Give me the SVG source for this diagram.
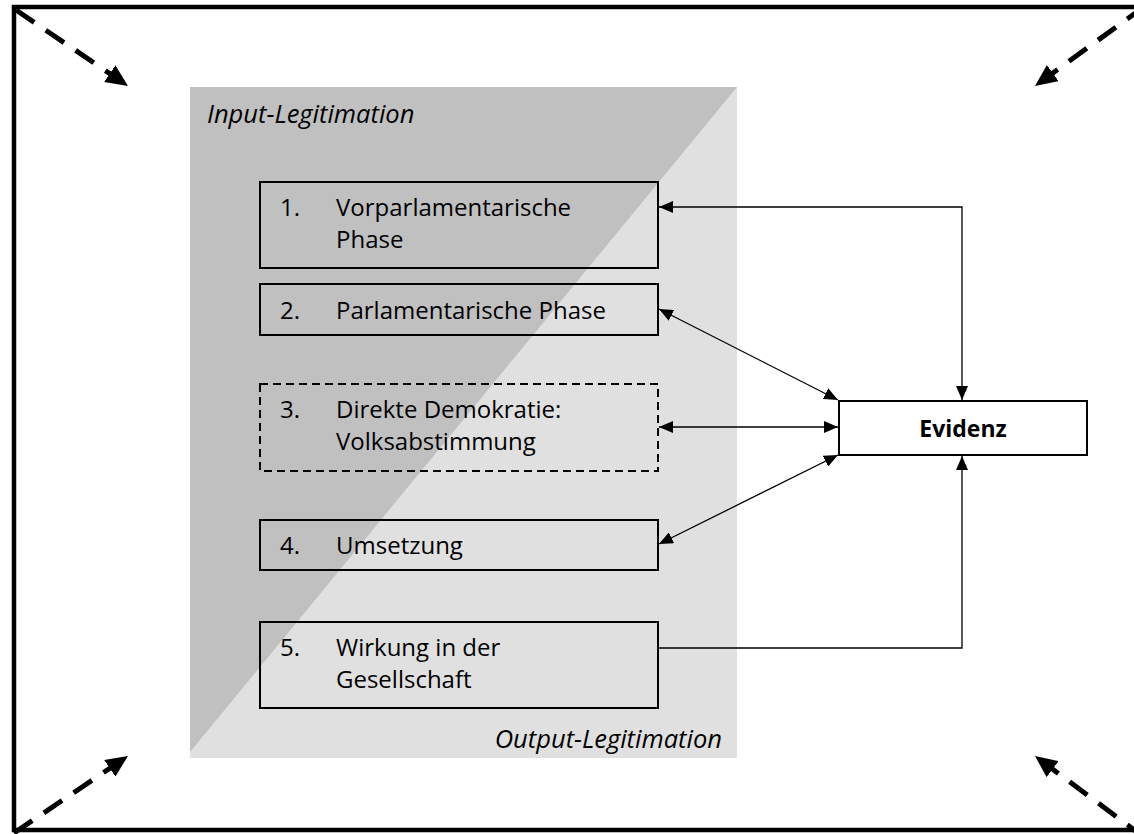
<svg xmlns="http://www.w3.org/2000/svg" width="1134" height="834" viewBox="0 0 1134 834">
<style>
.box{fill:none;stroke:#000;stroke-width:2}
.t{font-family:"Open Sans","Noto Sans",sans-serif;font-size:24px;fill:#000}
.it{font-family:"Open Sans","Noto Sans",sans-serif;font-size:25.5px;font-style:italic;fill:#000}
.con{fill:none;stroke:#000;stroke-width:1.3}
.corner{fill:none;stroke:#000;stroke-width:5;stroke-dasharray:22 14}
</style>
<defs>
<marker id="ah" markerUnits="userSpaceOnUse" markerWidth="14" markerHeight="12" refX="14" refY="6" orient="auto-start-reverse">
<path d="M0,0 L14,6 L0,12 z" fill="#000"/>
</marker>
<marker id="big" markerUnits="userSpaceOnUse" markerWidth="22" markerHeight="20" refX="22" refY="10" orient="auto">
<path d="M0,0 L22,10 L0,20 z" fill="#000"/>
</marker>
</defs>
<rect width="1134" height="834" fill="#fff"/>
<g id="frame">
<rect x="14" y="7" width="1132" height="823" fill="none" stroke="#000" stroke-width="4.5"/>
</g>
<g id="background">
<rect x="190" y="87" width="547" height="671" fill="#e0e0e0"/>
<polygon points="190,87 737,87 190,752" fill="#c0c0c0"/>
<text class="it" x="207" y="123">Input-Legitimation</text>
<text class="it" x="722" y="748" text-anchor="end">Output-Legitimation</text>
</g>
<g id="corner-arrows">
<line class="corner" x1="16" y1="10" x2="128" y2="86" marker-end="url(#big)"/>
<line class="corner" x1="1145" y1="6" x2="1035" y2="86" marker-end="url(#big)"/>
<line class="corner" x1="14" y1="833" x2="128" y2="756" marker-end="url(#big)"/>
<line class="corner" x1="1145" y1="838" x2="1035" y2="756" marker-end="url(#big)"/>
</g>
<g id="node1">
<rect class="box" x="260" y="182" width="398" height="86"/>
<text class="t" x="280" y="216">1.</text>
<text class="t" x="336" y="216">Vorparlamentarische</text>
<text class="t" x="336" y="248">Phase</text>
</g>
<g id="node2">
<rect class="box" x="260" y="284" width="398" height="51"/>
<text class="t" x="280" y="319">2.</text>
<text class="t" x="336" y="319">Parlamentarische Phase</text>
</g>
<g id="node3">
<rect class="box" x="260" y="384" width="398" height="87" stroke-dasharray="8 5"/>
<text class="t" x="280" y="418">3.</text>
<text class="t" x="336" y="418">Direkte Demokratie:</text>
<text class="t" x="336" y="450">Volksabstimmung</text>
</g>
<g id="node4">
<rect class="box" x="260" y="520" width="398" height="50"/>
<text class="t" x="280" y="554">4.</text>
<text class="t" x="336" y="554">Umsetzung</text>
</g>
<g id="node5">
<rect class="box" x="260" y="622" width="398" height="86"/>
<text class="t" x="280" y="656">5.</text>
<text class="t" x="336" y="656">Wirkung in der</text>
<text class="t" x="336" y="688">Gesellschaft</text>
</g>
<g id="evidenz">
<rect x="839" y="401" width="248" height="54" fill="#fff" stroke="#000" stroke-width="2"/>
<text x="963" y="437" text-anchor="middle" font-family="Open Sans, Noto Sans, sans-serif" font-size="23" font-weight="bold">Evidenz</text>
</g>
<g id="connectors">
<path class="con" d="M659,207 H962 V400" marker-start="url(#ah)" marker-end="url(#ah)"/>
<line class="con" x1="659" y1="309" x2="838" y2="400" marker-start="url(#ah)" marker-end="url(#ah)"/>
<line class="con" x1="659" y1="427" x2="838" y2="427" marker-start="url(#ah)" marker-end="url(#ah)"/>
<line class="con" x1="659" y1="544" x2="838" y2="455" marker-start="url(#ah)" marker-end="url(#ah)"/>
<path class="con" d="M659,648 H962 V456" marker-end="url(#ah)"/>
</g>
</svg>
